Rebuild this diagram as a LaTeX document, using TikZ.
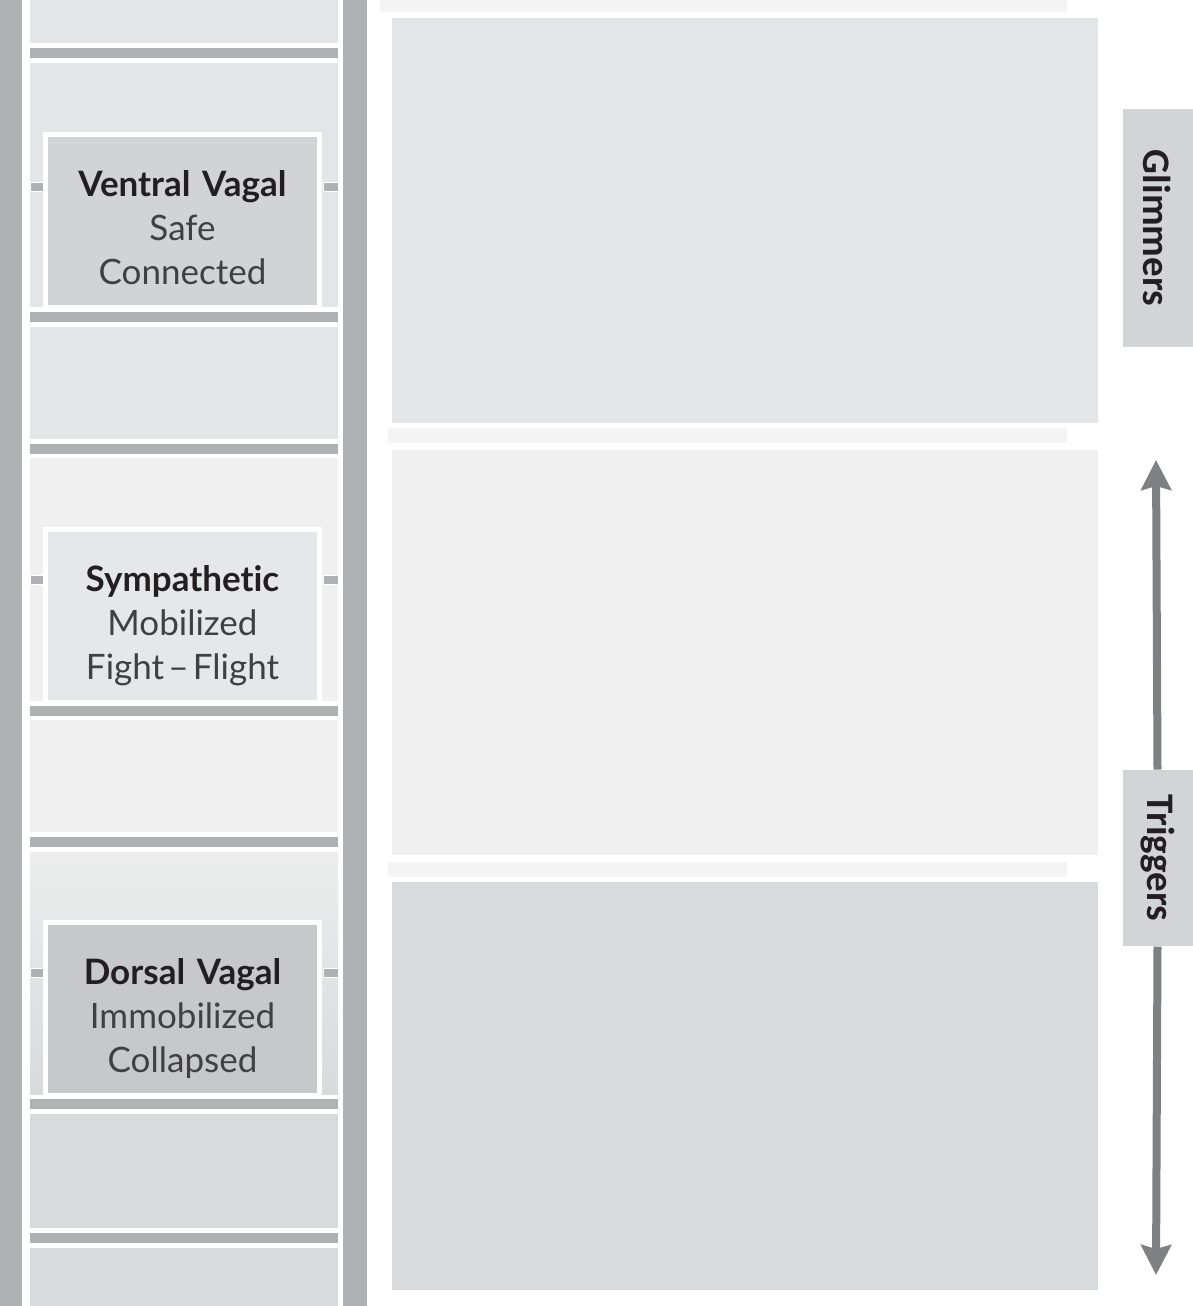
\documentclass[tikz,border=0pt]{standalone}
\usepackage{fontspec}
\setmainfont{Lato}[Ligatures=NoCommon]
\newfontfamily\tabfont{Carlito}
\usepackage{tikz}
\usetikzlibrary{arrows.meta}

\definecolor{railgray}{HTML}{B0B1B3}
\definecolor{ventralpanel}{HTML}{E4E5E7}
\definecolor{ventralbox}{HTML}{D2D3D5}
\definecolor{symppanel}{HTML}{F0F0F0}
\definecolor{sympbox}{HTML}{E6E7E8}
\definecolor{dorsalpanel}{HTML}{D9DADC}
\definecolor{dorsalbox}{HTML}{C7C8CA}
\definecolor{tabgray}{HTML}{D3D4D6}
\definecolor{arrowgray}{HTML}{7F8082}
\definecolor{faintgray}{HTML}{F4F4F4}
\definecolor{boldtext}{HTML}{231F20}
\definecolor{softtext}{HTML}{404041}

\begin{document}
\begin{tikzpicture}
[x=1pt, y=-1pt, line width=1pt,
 statebox/.style={draw=white, line width=5pt, inner sep=0pt, text width=274pt,
   align=center, text height=61.5pt, text depth=111.5pt, text=softtext,
   font=\fontsize{35}{44}\selectfont},
 sidetab/.style={fill=tabgray, rotate=-90, minimum height=70pt, inner sep=0pt,
   font=\tabfont\bfseries\fontsize{39}{40}\selectfont, text=boldtext},
 updown/.style={draw=arrowgray, line width=8pt,
   -{Stealth[length=30pt, width=30pt, inset=4pt]}}]
\useasboundingbox (0,0) rectangle (1192,1306);
%% ladder rails
\fill[railgray] (0,0) rectangle (22,1306);
\fill[railgray] (343,0) rectangle (367,1306);
%% panels between the rungs
\fill[ventralpanel] (30,0)   rectangle (338,43);
\fill[ventralpanel] (30,63)  rectangle (338,307);
\fill[ventralpanel] (30,327) rectangle (338,439);
\fill[symppanel]    (30,458) rectangle (338,701);
\fill[symppanel]    (30,720) rectangle (338,832);
\shade[top color=symppanel!70!ventralpanel, bottom color=dorsalpanel]
                    (30,852) rectangle (338,1094);
\fill[dorsalpanel]  (30,1114) rectangle (338,1228);
\fill[dorsalpanel]  (30,1248) rectangle (338,1306);
%% rungs
\foreach \y in {48,312,444,706,837,1099,1233}
  \fill[railgray] (30,\y) rectangle (338,\y+10);
%% little links beside each state
\foreach \y in {182,575,968}{
  \filldraw[railgray, draw=white, line width=1pt] (30,\y) rectangle (43,\y+9);
  \filldraw[railgray, draw=white, line width=1pt] (323,\y) rectangle (338,\y+9);
}
%% the three states
\node[statebox, fill=ventralbox] (ventral) at (182.5,221)
  {{\bfseries\color{boldtext}Ventral Vagal}\\Safe\\Connected};
\node[statebox, fill=sympbox] (symp) at (182.5,616)
  {{\bfseries\color{boldtext}Sympathetic}\\Mobilized\\Fight\hspace{0.12em}--\hspace{0.12em}Flight};
\node[statebox, fill=dorsalbox] (dorsal) at (182.5,1009)
  {{\bfseries\color{boldtext}Dorsal Vagal}\\Immobilized\\Collapsed};
%% faded rungs on the right
\fill[faintgray] (380,0)   rectangle (1067,12);
\fill[faintgray] (388,428) rectangle (1067,443);
\fill[faintgray] (388,862) rectangle (1067,877);
%% right hand fields
\fill[ventralpanel] (392,18)  rectangle (1098,423); %% top
\fill[symppanel]    (392,450) rectangle (1098,855); %% middle
\fill[dorsalpanel]  (392,882) rectangle (1098,1290); %% bottom
%% side tabs and arrows
\node[sidetab, minimum width=238pt] (glim) at (1157.5,228) {Glimmers};
\node[sidetab, minimum width=176pt] (trig) at (1157.5,858) {Triggers};
\coordinate (uptip)   at (1156,460);
\coordinate (downtip) at (1156,1275);
\draw[updown] (trig.west) -- (uptip);
\draw[updown] (trig.east) -- (downtip);
\end{tikzpicture}
\end{document}
